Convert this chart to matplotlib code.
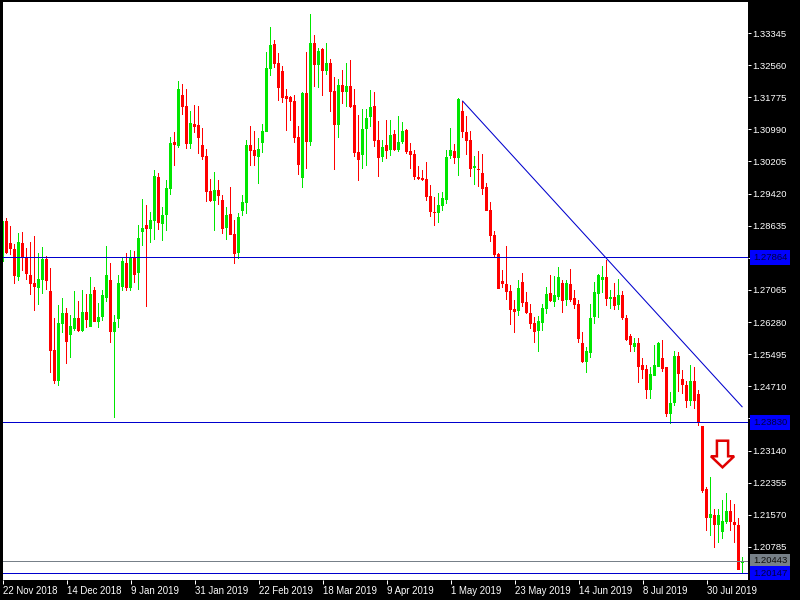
import matplotlib
matplotlib.use('Agg')
import matplotlib.pyplot as plt
import numpy as np
from matplotlib.patches import Polygon

# GBPUSD daily candles
opens = [1.2776, 1.2876, 1.2822, 1.2807, 1.2739, 1.2822, 1.2785, 1.2744, 1.2724, 1.2712,
         1.2731, 1.2783, 1.2705, 1.2560, 1.2484, 1.2624, 1.2651, 1.2597, 1.2612, 1.2638,
         1.2607, 1.2653, 1.2616, 1.2707, 1.2629, 1.2641, 1.2687, 1.2731, 1.2604, 1.2636,
         1.2714, 1.2773, 1.2712, 1.2788, 1.2749, 1.2848, 1.2865, 1.2855, 1.2875, 1.2983,
         1.2868, 1.2890, 1.2953, 1.3068, 1.3058, 1.3183, 1.3156, 1.3063, 1.3112, 1.3110,
         1.3061, 1.3034, 1.2948, 1.2924, 1.2951, 1.2926, 1.2858, 1.2892, 1.2843, 1.2797,
         1.2899, 1.2919, 1.3061, 1.3049, 1.3031, 1.3066, 1.3092, 1.3246, 1.3307, 1.3261,
         1.3241, 1.3180, 1.3178, 1.3168, 1.3080, 1.2980, 1.3188, 1.3068, 1.3310, 1.3256,
         1.3295, 1.3241, 1.3261, 1.3193, 1.3109, 1.3207, 1.3190, 1.3205, 1.3158, 1.3043,
         1.3036, 1.3100, 1.3129, 1.3156, 1.3073, 1.3031, 1.3060, 1.3048, 1.3087, 1.3048,
         1.3068, 1.3097, 1.3046, 1.3039, 1.2982, 1.2980, 1.2977, 1.2936, 1.2897, 1.2894,
         1.2911, 1.2926, 1.3034, 1.3046, 1.3029, 1.3144, 1.3092, 1.3073, 1.3004, 1.3002,
         1.2992, 1.2958, 1.2902, 1.2841, 1.2794, 1.2728, 1.2721, 1.2704, 1.2660, 1.2655,
         1.2726, 1.2677, 1.2650, 1.2626, 1.2606, 1.2626, 1.2660, 1.2699, 1.2677, 1.2689,
         1.2723, 1.2682, 1.2721, 1.2687, 1.2672, 1.2577, 1.2530, 1.2552, 1.2640, 1.2697,
         1.2731, 1.2738, 1.2684, 1.2689, 1.2670, 1.2695, 1.2639, 1.2593, 1.2568, 1.2578,
         1.2524, 1.2514, 1.2461, 1.2497, 1.2519, 1.2541, 1.2517, 1.2404, 1.2429, 1.2546,
         1.2490, 1.2475, 1.2436, 1.2483, 1.2453, 1.2375, 1.2219, 1.2150, 1.2157, 1.2133,
         1.2116, 1.2140, 1.2167, 1.2140, 1.2131, 1.2038]
highs = [1.2876, 1.2883, 1.2863, 1.2819, 1.2846, 1.2849, 1.2810, 1.2824, 1.2839, 1.2797,
         1.2812, 1.2790, 1.2761, 1.2638, 1.2670, 1.2687, 1.2663, 1.2646, 1.2705, 1.2680,
         1.2707, 1.2697, 1.2739, 1.2714, 1.2675, 1.2707, 1.2815, 1.2773, 1.2646, 1.2744,
         1.2785, 1.2797, 1.2805, 1.2802, 1.2866, 1.2929, 1.2914, 1.2897, 1.3000, 1.2992,
         1.2909, 1.2975, 1.3080, 1.3092, 1.3217, 1.3210, 1.3198, 1.3144, 1.3159, 1.3156,
         1.3102, 1.3051, 1.2978, 1.2995, 1.2975, 1.2939, 1.2909, 1.2958, 1.2877, 1.2894,
         1.2939, 1.3073, 1.3107, 1.3095, 1.3078, 1.3112, 1.3288, 1.3349, 1.3317, 1.3285,
         1.3254, 1.3197, 1.3180, 1.3183, 1.3107, 1.3190, 1.3288, 1.3381, 1.3329, 1.3298,
         1.3298, 1.3310, 1.3271, 1.3227, 1.3222, 1.3244, 1.3261, 1.3268, 1.3197, 1.3134,
         1.3149, 1.3149, 1.3195, 1.3190, 1.3119, 1.3073, 1.3122, 1.3122, 1.3097, 1.3131,
         1.3117, 1.3100, 1.3065, 1.3048, 1.3009, 1.2999, 1.3019, 1.2963, 1.2933, 1.2943,
         1.2946, 1.3048, 1.3102, 1.3063, 1.3175, 1.3168, 1.3131, 1.3095, 1.3034, 1.3046,
         1.3039, 1.2968, 1.2922, 1.2851, 1.2797, 1.2755, 1.2814, 1.2719, 1.2682, 1.2731,
         1.2748, 1.2701, 1.2672, 1.2640, 1.2643, 1.2672, 1.2714, 1.2743, 1.2741, 1.2763,
         1.2731, 1.2731, 1.2758, 1.2706, 1.2682, 1.2604, 1.2567, 1.2672, 1.2726, 1.2745,
         1.2765, 1.2780, 1.2706, 1.2723, 1.2733, 1.2705, 1.2646, 1.2600, 1.2588, 1.2588,
         1.2541, 1.2524, 1.2519, 1.2573, 1.2580, 1.2585, 1.2519, 1.2458, 1.2558, 1.2554,
         1.2512, 1.2485, 1.2524, 1.2519, 1.2461, 1.2375, 1.2226, 1.2250, 1.2172, 1.2170,
         1.2192, 1.2211, 1.2192, 1.2184, 1.2148, 1.2055]
lows = [1.2776, 1.2794, 1.2793, 1.2722, 1.2729, 1.2753, 1.2731, 1.2695, 1.2656, 1.2670,
        1.2697, 1.2707, 1.2504, 1.2477, 1.2472, 1.2602, 1.2526, 1.2541, 1.2607, 1.2604,
        1.2604, 1.2614, 1.2616, 1.2629, 1.2614, 1.2631, 1.2678, 1.2577, 1.2394, 1.2614,
        1.2705, 1.2705, 1.2705, 1.2724, 1.2707, 1.2814, 1.2665, 1.2821, 1.2829, 1.2853,
        1.2826, 1.2851, 1.2939, 1.3009, 1.3053, 1.3134, 1.3051, 1.3051, 1.3090, 1.3039,
        1.3024, 1.2921, 1.2921, 1.2851, 1.2914, 1.2843, 1.2829, 1.2841, 1.2770, 1.2782,
        1.2887, 1.2892, 1.3009, 1.3009, 1.2965, 1.3041, 1.3092, 1.3229, 1.3249, 1.3168,
        1.3163, 1.3095, 1.3119, 1.3065, 1.2987, 1.2955, 1.3002, 1.3058, 1.3202, 1.3200,
        1.3180, 1.3232, 1.3141, 1.2999, 1.3078, 1.3161, 1.3153, 1.3151, 1.3031, 1.2972,
        1.3002, 1.3009, 1.3104, 1.3056, 1.2982, 1.3019, 1.3026, 1.3034, 1.3046, 1.3043,
        1.3063, 1.3038, 1.3002, 1.2975, 1.2975, 1.2972, 1.2924, 1.2884, 1.2862, 1.2870,
        1.2899, 1.2916, 1.3026, 1.3014, 1.2985, 1.3078, 1.3036, 1.2982, 1.2963, 1.2958,
        1.2938, 1.2899, 1.2824, 1.2788, 1.2709, 1.2711, 1.2682, 1.2621, 1.2601, 1.2643,
        1.2665, 1.2648, 1.2611, 1.2577, 1.2555, 1.2606, 1.2648, 1.2677, 1.2665, 1.2682,
        1.2650, 1.2667, 1.2677, 1.2660, 1.2577, 1.2528, 1.2503, 1.2540, 1.2623, 1.2638,
        1.2699, 1.2667, 1.2660, 1.2658, 1.2658, 1.2634, 1.2582, 1.2556, 1.2556, 1.2480,
        1.2490, 1.2439, 1.2441, 1.2495, 1.2519, 1.2507, 1.2395, 1.2380, 1.2424, 1.2456,
        1.2453, 1.2417, 1.2424, 1.2416, 1.2375, 1.2211, 1.2118, 1.2104, 1.2077, 1.2088,
        1.2099, 1.2135, 1.2118, 1.2087, 1.2021, 1.2015]
closes = [1.2876, 1.2797, 1.2807, 1.2741, 1.2824, 1.2787, 1.2746, 1.2722, 1.2714, 1.2734,
          1.2783, 1.2729, 1.2558, 1.2484, 1.2626, 1.2651, 1.2580, 1.2619, 1.2638, 1.2607,
          1.2653, 1.2634, 1.2697, 1.2629, 1.2641, 1.2695, 1.2744, 1.2604, 1.2629, 1.2724,
          1.2778, 1.2712, 1.2785, 1.2744, 1.2834, 1.2858, 1.2855, 1.2877, 1.2985, 1.2870,
          1.2890, 1.2956, 1.3066, 1.3061, 1.3198, 1.3154, 1.3063, 1.3115, 1.3105, 1.3078,
          1.3031, 1.2946, 1.2924, 1.2951, 1.2936, 1.2855, 1.2890, 1.2841, 1.2794, 1.2885,
          1.2921, 1.3061, 1.3046, 1.3034, 1.3051, 1.3095, 1.3249, 1.3305, 1.3259, 1.3200,
          1.3175, 1.3173, 1.3166, 1.3078, 1.3012, 1.3188, 1.3068, 1.3310, 1.3256, 1.3290,
          1.3241, 1.3261, 1.3190, 1.3109, 1.3207, 1.3190, 1.3205, 1.3153, 1.3041, 1.3024,
          1.3100, 1.3126, 1.3153, 1.3070, 1.3029, 1.3056, 1.3046, 1.3085, 1.3048, 1.3068,
          1.3095, 1.3043, 1.3036, 1.2982, 1.2977, 1.2975, 1.2933, 1.2897, 1.2894, 1.2914,
          1.2931, 1.3031, 1.3048, 1.3029, 1.3173, 1.3092, 1.3070, 1.3002, 1.3009, 1.2999,
          1.2953, 1.2899, 1.2838, 1.2792, 1.2709, 1.2721, 1.2701, 1.2658, 1.2653, 1.2711,
          1.2675, 1.2650, 1.2623, 1.2604, 1.2631, 1.2662, 1.2697, 1.2679, 1.2694, 1.2738,
          1.2679, 1.2723, 1.2682, 1.2670, 1.2587, 1.2530, 1.2557, 1.2638, 1.2701, 1.2743,
          1.2738, 1.2684, 1.2689, 1.2667, 1.2694, 1.2637, 1.2583, 1.2571, 1.2578, 1.2519,
          1.2512, 1.2461, 1.2502, 1.2522, 1.2576, 1.2514, 1.2404, 1.2431, 1.2546, 1.2500,
          1.2473, 1.2436, 1.2485, 1.2436, 1.2382, 1.2216, 1.2150, 1.2160, 1.2131, 1.2157,
          1.2143, 1.2167, 1.2140, 1.2133, 1.2021, 1.2045]

date_ticks = ['22 Nov 2018', '14 Dec 2018', '9 Jan 2019', '31 Jan 2019', '22 Feb 2019', '18 Mar 2019',
              '9 Apr 2019', '1 May 2019', '23 May 2019', '14 Jun 2019', '8 Jul 2019', '30 Jul 2019']
date_tick_idx = [0, 16, 32, 48, 64, 80, 96, 112, 128, 144, 160, 176]
price_ticks = [1.33345, 1.32560, 1.31775, 1.30990, 1.30205, 1.29420, 1.28635, 1.27850, 1.27065,
               1.26280, 1.25495, 1.24710, 1.23925, 1.23140, 1.22355, 1.21570, 1.20785]
level_upper = 1.27864
level_lower = 1.23830
level_bid = 1.20443
level_low = 1.20147
trend_x = [115, 184.9]
trend_y = [1.3168, 1.2421]
arrow_x = [178.6, 178.6, 177.1, 180, 182.9, 181.4, 181.4]
arrow_y = [1.2338, 1.2300, 1.2300, 1.2273, 1.2300, 1.2300, 1.2338]

GREEN = '#00e600'
RED = '#ff0000'
BLUE = '#0000cd'
PX = 72 / 100  # one pixel in points

plt.rcParams['font.family'] = ['Liberation Sans', 'DejaVu Sans']

fig = plt.figure(figsize=(8, 6), dpi=100, facecolor='black')
ax = fig.add_axes([3 / 800, 20 / 600, 745 / 800, 578 / 600], facecolor='white')

x = np.arange(len(opens))
o, h, l, c = map(np.array, (opens, highs, lows, closes))
colors = np.where(c >= o, GREEN, RED)
top = np.maximum(o, c)
bot = np.minimum(o, c)

# wicks and bodies as aliased bars so they land on whole pixels
ax.bar(x, h - l, bottom=l, width=0.25, color=colors, linewidth=0, antialiased=False, zorder=2)
ax.bar(x, np.maximum(top - bot, 0.00025), bottom=bot, width=0.75, color=colors, linewidth=0,
       antialiased=False, zorder=3)

for level, col in [(level_upper, BLUE), (level_lower, BLUE), (level_bid, '#778088'), (level_low, BLUE)]:
    ax.axhline(level, color=col, linewidth=PX, antialiased=False, zorder=4)

ax.plot(trend_x, trend_y, color=BLUE, linewidth=0.75, zorder=4)
ax.add_patch(Polygon(list(zip(arrow_x, arrow_y)), closed=True, facecolor='white', edgecolor='#e00000',
                     linewidth=1.8, joinstyle='miter', zorder=5))

ax.set_xlim(0.125, 186.375)
ax.set_ylim(1.19976, 1.34103)

ax.yaxis.tick_right()
ax.set_yticks(price_ticks)
ax.set_yticklabels(['%.5f' % p for p in price_ticks])
ax.set_xticks(date_tick_idx)
ax.set_xticklabels(date_ticks, ha='left')
ax.tick_params(axis='y', colors='white', length=3 * PX, width=PX, pad=1, labelsize=6.8)
ax.tick_params(axis='x', colors='white', length=4 * PX, width=PX, pad=1.5, labelsize=6.9)
for s in ax.spines.values():
    s.set_visible(False)

# price boxes on the right scale
for level, box, txt in [(level_upper, '#0000ff', '#000040'), (level_lower, '#0000ff', '#000040'),
                        (level_bid, '#778088', '#101010'), (level_low, '#0000ff', '#000040')]:
    ax.annotate('%.5f' % level, xy=(1, level), xycoords=('axes fraction', 'data'),
                xytext=(5, 0), textcoords='offset pixels', va='center', ha='left',
                fontsize=6.8, color=txt, annotation_clip=False, zorder=10,
                bbox=dict(boxstyle='square,pad=0.3', facecolor=box, edgecolor='none'))

fig.savefig('out.png', dpi=100, facecolor='black')
